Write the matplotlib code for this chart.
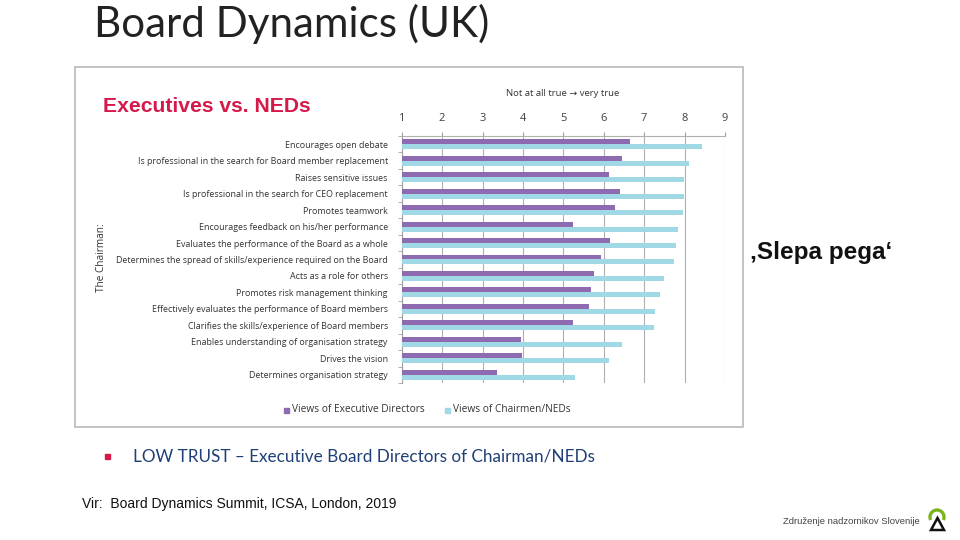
import matplotlib
matplotlib.use("Agg")
import matplotlib.pyplot as plt
import matplotlib.patches as mpatches
import numpy as np

# Data (scale 1 = not at all true, 9 = very true)
categories = [
    "Encourages open debate",
    "Is professional in the search for Board member replacement",
    "Raises sensitive issues",
    "Is professional in the search for CEO replacement",
    "Promotes teamwork",
    "Encourages feedback on his/her performance",
    "Evaluates the performance of the Board as a whole",
    "Determines the spread of skills/experience required on the Board",
    "Acts as a role for others",
    "Promotes risk management thinking",
    "Effectively evaluates the performance of Board members",
    "Clarifies the skills/experience of Board members",
    "Enables understanding of organisation strategy",
    "Drives the vision",
    "Determines organisation strategy",
]
executives = [6.65, 6.46, 6.12, 6.39, 6.27, 5.24, 6.15, 5.92, 5.77, 5.68, 5.64, 5.24, 3.96, 3.97, 3.35]
chairmen = [8.42, 8.12, 7.99, 7.98, 7.95, 7.83, 7.79, 7.75, 7.48, 7.38, 7.26, 7.24, 6.46, 6.12, 5.28]
series_names = ["Views of Executive Directors", "Views of Chairmen/NEDs"]
xticks = [1, 2, 3, 4, 5, 6, 7, 8, 9]

purple = "#8e6bb0"
blue = "#a0d8e5"
chart_font = ["Open Sans", "DejaVu Sans"]

fig = plt.figure(figsize=(9.6, 5.4), dpi=100)
W, H = 960, 540

def fx(px):
    return px / W

def fy(py):
    return 1 - py / H

# frame of the embedded picture
frame = mpatches.Rectangle((fx(75), fy(427)), fx(743) - fx(75), fy(67) - fy(427),
                           transform=fig.transFigure, fill=False, ec="#b8b8b8", lw=1.2)
fig.patches.append(frame)

ax = fig.add_axes([fx(401.7), fy(383), fx(725) - fx(401.7), fy(136) - fy(383)])

y = np.arange(len(categories))
h = 0.3
ax.barh(y - h / 2, np.array(executives) - 1, left=1, height=h, color=purple, zorder=3)
ax.barh(y + h / 2, np.array(chairmen) - 1, left=1, height=h, color=blue, zorder=3)

ax.set_xlim(1, 9)
ax.set_ylim(len(categories) - 0.5, -0.5)
ax.xaxis.tick_top()
ax.set_xticks(xticks)
ax.set_xticklabels([str(t) for t in xticks], fontsize=8, color="#404040", family=chart_font)
ax.tick_params(axis="x", length=3, color="#a0a0a0", pad=5.5)
ax.grid(axis="x", color="#b0b0b0", lw=0.8, zorder=0)

ax.set_yticks(y)
ax.set_yticklabels(categories, fontsize=6.4, color="#333333", family=chart_font)
ax.set_yticks(np.arange(len(categories) + 1) - 0.5, minor=True)
ax.tick_params(axis="y", which="major", length=0, pad=10)
ax.tick_params(axis="y", which="minor", length=3, color="#a0a0a0")

for s in ["right", "bottom"]:
    ax.spines[s].set_visible(False)
ax.spines["top"].set_color("#b0b0b0")
ax.spines["left"].set_color("#a0a0a0")

fig.text(fx(563), fy(94), "Not at all true \u2192 very true", fontsize=6.8, color="#333333",
         family=chart_font, ha="center", va="center")
fig.text(fx(103), fy(106), "Executives vs. NEDs", fontsize=15.2, color="#d51a4b",
         family="Liberation Sans", weight="bold", ha="left", va="center")
fig.text(fx(101), fy(258), "The Chairman:", fontsize=7.2, color="#333333", family=chart_font,
         rotation=90, ha="center", va="center")

# legend
fig.patches.append(mpatches.Rectangle((fx(284), fy(413)), fx(5), 5 / H, transform=fig.transFigure,
                                      color=purple))
fig.text(fx(292), fy(410), series_names[0], fontsize=7.3, color="#333333", family=chart_font,
         va="center")
fig.patches.append(mpatches.Rectangle((fx(445), fy(413)), fx(5), 5 / H, transform=fig.transFigure,
                                      color=blue))
fig.text(fx(453), fy(410), series_names[1], fontsize=7.3, color="#333333", family=chart_font,
         va="center")

# slide texts
fig.text(fx(94), fy(24), "Board Dynamics (UK)", fontsize=30.3, color="#222222", family="Lato",
         ha="left", va="center")
fig.patches.append(mpatches.Rectangle((fx(105), fy(459)), fx(5), 5 / H, transform=fig.transFigure,
                                      color="#d51a4b"))
fig.text(fx(133), fy(457), "LOW TRUST \u2013 Executive Board Directors of Chairman/NEDs", fontsize=12.3,
         color="#1f3f77", family="Lato", ha="left", va="center")
fig.text(fx(82), fy(504), "Vir:  Board Dynamics Summit, ICSA, London, 2019", fontsize=10,
         color="#111111", family="Liberation Sans", ha="left", va="center")
fig.text(fx(750), fy(253), "\u201aSlepa pega\u2018", fontsize=17.5, color="#111111",
         family="Liberation Sans", weight="bold", ha="left", va="center")
fig.text(fx(783), fy(522), "Zdru\u017eenje nadzornikov Slovenije", fontsize=6.8, color="#444444",
         family="Liberation Sans", ha="left", va="center")

# logo
fig.patches.append(mpatches.Arc((fx(937), fy(517)), 14 / W, 14 / H, theta1=-40, theta2=220,
                                transform=fig.transFigure, color="#7ab51d", lw=2.4))
fig.patches.append(mpatches.Polygon([(fx(931), fy(530)), (fx(944), fy(530)), (fx(937.5), fy(518))],
                                    closed=True, transform=fig.transFigure, fill=False,
                                    ec="#111111", lw=1.8))

fig.savefig("out.png", dpi=100)
